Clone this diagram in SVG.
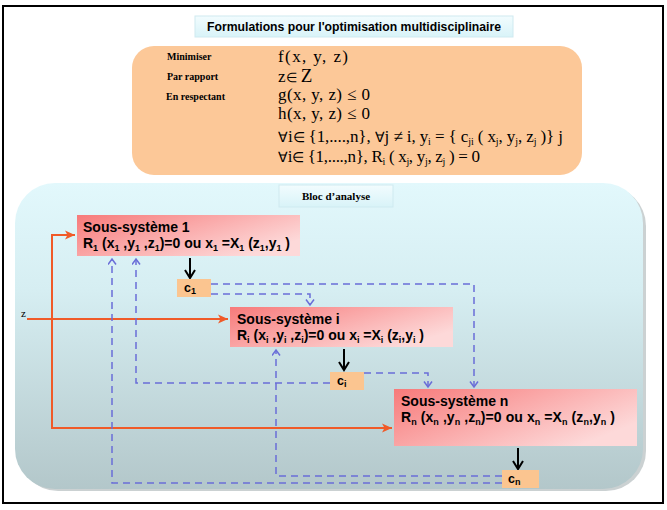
<svg xmlns="http://www.w3.org/2000/svg" width="667" height="510" viewBox="0 0 667 510">
<defs>
<linearGradient id="gBlock" x1="0" y1="0" x2="0" y2="1">
<stop offset="0" stop-color="#e2f8fc"/>
<stop offset="0.35" stop-color="#d6eef2"/>
<stop offset="1" stop-color="#b3c7ca"/>
</linearGradient>
<linearGradient id="gSys" x1="0" y1="0" x2="1" y2="0.6">
<stop offset="0" stop-color="#f77a7a"/>
<stop offset="1" stop-color="#fdd9d9"/>
</linearGradient>
<linearGradient id="gLabel" x1="0" y1="0" x2="0" y2="1">
<stop offset="0" stop-color="#f2fcfe"/>
<stop offset="1" stop-color="#d8f3f8"/>
</linearGradient>
<marker id="mOr" markerUnits="userSpaceOnUse" markerWidth="12" markerHeight="12" refX="10" refY="5" orient="auto">
<path d="M0,0.5 L10,5 L0,9.5 L2.5,5 z" fill="#f05a28"/>
</marker>
<marker id="mBl" markerUnits="userSpaceOnUse" markerWidth="12" markerHeight="12" refX="6" refY="4.5" orient="auto">
<path d="M0.5,0.5 L6,4.5 L0.5,8.5" fill="none" stroke="#6a6ed8" stroke-width="1.5"/>
</marker>
<marker id="mBk" markerUnits="userSpaceOnUse" markerWidth="12" markerHeight="14" refX="9" refY="6" orient="auto">
<path d="M1,1 L9,6 L1,11" fill="none" stroke="#000" stroke-width="2"/>
</marker>
</defs>
<style>
.sys{fill:url(#gSys);}
.cbox{fill:#fbc590;}
.st{font-family:"Liberation Sans",Arial,sans-serif;font-weight:bold;font-size:14px;fill:#000;}
.sub{font-size:9px;}
.ct{font-family:"Liberation Sans",Arial,sans-serif;font-weight:bold;font-size:12.5px;fill:#000;}
.lab{font-family:"Liberation Serif","Times New Roman",serif;font-weight:bold;font-size:10px;fill:#000;}
.math{font-family:"Liberation Serif","Times New Roman",serif;font-size:17px;fill:#000;}
.msub{font-size:10px;}
.or{fill:none;stroke:#f05a28;stroke-width:2;}
.bl{fill:none;stroke:#6a6ed8;stroke-width:1.5;stroke-dasharray:7 5;}
.bk{fill:none;stroke:#000;stroke-width:2;}
</style>
<rect x="0" y="0" width="667" height="510" fill="#fff"/>
<rect x="3" y="6" width="660" height="497" fill="#fff" stroke="#000" stroke-width="2"/>

<g id="title">
<rect x="195" y="16" width="318" height="21" fill="url(#gLabel)" stroke="#cfeaf0" stroke-width="1"/>
<text x="354" y="31" text-anchor="middle" font-family="'Liberation Sans',Arial,sans-serif" font-weight="bold" font-size="12" textLength="294" lengthAdjust="spacingAndGlyphs">Formulations pour l'optimisation multidisciplinaire</text>
</g>

<g id="formulation">
<rect x="132" y="46" width="450" height="129" rx="22" fill="#fcc898"/>
<text class="lab" x="167" y="60">Minimiser</text>
<text class="lab" x="167" y="80">Par rapport</text>
<text class="lab" x="166" y="100">En respectant</text>
<text class="math" x="278" y="62" textLength="70">f(x, y, z)</text>
<text class="math" x="278" y="82" font-size="16">z<tspan font-size="13">∈</tspan> <tspan font-size="19">Z</tspan></text>
<text class="math" x="278" y="100" textLength="92">g(x, y, z) ≤ 0</text>
<text class="math" x="278" y="119" textLength="92">h(x, y, z) ≤ 0</text>
<text class="math" x="278" y="142" textLength="285"><tspan font-size="14">∀</tspan>i<tspan font-size="14">∈</tspan> {1,....,n}, <tspan font-size="14">∀</tspan>j ≠ i, y<tspan class="msub" dy="3">i</tspan><tspan dy="-3"> = { c</tspan><tspan class="msub" dy="3">ji</tspan><tspan dy="-3"> ( x</tspan><tspan class="msub" dy="3">j</tspan><tspan dy="-3">, y</tspan><tspan class="msub" dy="3">j</tspan><tspan dy="-3">, z</tspan><tspan class="msub" dy="3">j</tspan><tspan dy="-3"> )} j</tspan></text>
<text class="math" x="278" y="162" textLength="202"><tspan font-size="14">∀</tspan>i<tspan font-size="14">∈</tspan> {1,....,n}, R<tspan class="msub" dy="3">i</tspan><tspan dy="-3"> ( x</tspan><tspan class="msub" dy="3">j</tspan><tspan dy="-3">, y</tspan><tspan class="msub" dy="3">j</tspan><tspan dy="-3">, z</tspan><tspan class="msub" dy="3">j</tspan><tspan dy="-3"> ) = 0</tspan></text>
</g>

<g id="bloc">
<rect x="18" y="186" width="628" height="305" rx="40" fill="#8c9a9c" opacity="0.45"/>
<rect x="15" y="183" width="628" height="306" rx="40" fill="url(#gBlock)"/>
<rect x="279" y="185" width="114" height="22" fill="url(#gLabel)" stroke="#cfeaf0" stroke-width="1"/>
<text x="336" y="200" text-anchor="middle" font-family="'Liberation Serif','Times New Roman',serif" font-weight="bold" font-size="11">Bloc d’analyse</text>
</g>

<g id="connectors">
<path class="or" d="M27,319 H228" marker-end="url(#mOr)"/>
<path class="or" d="M52,235 V428 H392" marker-end="url(#mOr)"/>
<path class="or" d="M51,235 H75" marker-end="url(#mOr)"/>
<path class="bk" d="M190,258 V278" marker-end="url(#mBk)"/>
<path class="bk" d="M344,349 V370" marker-end="url(#mBk)"/>
<path class="bk" d="M518,448 V469" marker-end="url(#mBk)"/>
<path class="bl" d="M211,284 H474 V387" marker-end="url(#mBl)"/>
<path class="bl" d="M211,294 H310 V305" marker-end="url(#mBl)"/>
<path class="bl" d="M364,373 H428 V387" marker-end="url(#mBl)"/>
<path class="bl" d="M330,383 H136 V259" marker-end="url(#mBl)"/>
<path class="bl" d="M502,483 H112 V259" marker-end="url(#mBl)"/>
<path class="bl" d="M502,476 H276 V350" marker-end="url(#mBl)"/>
</g>
<text x="21" y="317" font-family="'Liberation Serif','Times New Roman',serif" font-size="11">z</text>

<g id="sys1">
<rect class="sys" x="77" y="215" width="223" height="41"/>
<text class="st" x="83" y="232">Sous-système 1</text>
<text class="st" x="83" y="248" textLength="207">R<tspan class="sub" dy="3">1</tspan><tspan dy="-3"> (x</tspan><tspan class="sub" dy="3">1</tspan><tspan dy="-3"> ,y</tspan><tspan class="sub" dy="3">1</tspan><tspan dy="-3"> ,z</tspan><tspan class="sub" dy="3">1</tspan><tspan dy="-3">)=0 ou x</tspan><tspan class="sub" dy="3">1</tspan><tspan dy="-3"> =X</tspan><tspan class="sub" dy="3">1</tspan><tspan dy="-3"> (z</tspan><tspan class="sub" dy="3">1</tspan><tspan dy="-3">,y</tspan><tspan class="sub" dy="3">1</tspan><tspan dy="-3"> )</tspan></text>
</g>
<g id="c1">
<rect class="cbox" x="177" y="279" width="34" height="18"/>
<text class="ct" x="184" y="292">c<tspan class="sub" dy="2">1</tspan></text>
</g>

<g id="sysi">
<rect class="sys" x="230" y="307" width="223" height="40"/>
<text class="st" x="237" y="324">Sous-système i</text>
<text class="st" x="237" y="340" textLength="187">R<tspan class="sub" dy="3">i</tspan><tspan dy="-3"> (x</tspan><tspan class="sub" dy="3">i</tspan><tspan dy="-3"> ,y</tspan><tspan class="sub" dy="3">i</tspan><tspan dy="-3"> ,z</tspan><tspan class="sub" dy="3">i</tspan><tspan dy="-3">)=0 ou x</tspan><tspan class="sub" dy="3">i</tspan><tspan dy="-3"> =X</tspan><tspan class="sub" dy="3">i</tspan><tspan dy="-3"> (z</tspan><tspan class="sub" dy="3">i</tspan><tspan dy="-3">,y</tspan><tspan class="sub" dy="3">i</tspan><tspan dy="-3"> )</tspan></text>
</g>
<g id="ci">
<rect class="cbox" x="330" y="372" width="34" height="18"/>
<text class="ct" x="337" y="385">c<tspan class="sub" dy="2">i</tspan></text>
</g>

<g id="sysn">
<rect class="sys" x="394" y="389" width="243" height="57"/>
<text class="st" x="401" y="406">Sous-système n</text>
<text class="st" x="401" y="422" textLength="214">R<tspan class="sub" dy="3">n</tspan><tspan dy="-3"> (x</tspan><tspan class="sub" dy="3">n</tspan><tspan dy="-3"> ,y</tspan><tspan class="sub" dy="3">n</tspan><tspan dy="-3"> ,z</tspan><tspan class="sub" dy="3">n</tspan><tspan dy="-3">)=0 ou x</tspan><tspan class="sub" dy="3">n</tspan><tspan dy="-3"> =X</tspan><tspan class="sub" dy="3">n</tspan><tspan dy="-3"> (z</tspan><tspan class="sub" dy="3">n</tspan><tspan dy="-3">,y</tspan><tspan class="sub" dy="3">n</tspan><tspan dy="-3"> )</tspan></text>
</g>
<g id="cn">
<rect class="cbox" x="502" y="470" width="37" height="18"/>
<text class="ct" x="508" y="483">c<tspan class="sub" dy="2">n</tspan></text>
</g>
</svg>
